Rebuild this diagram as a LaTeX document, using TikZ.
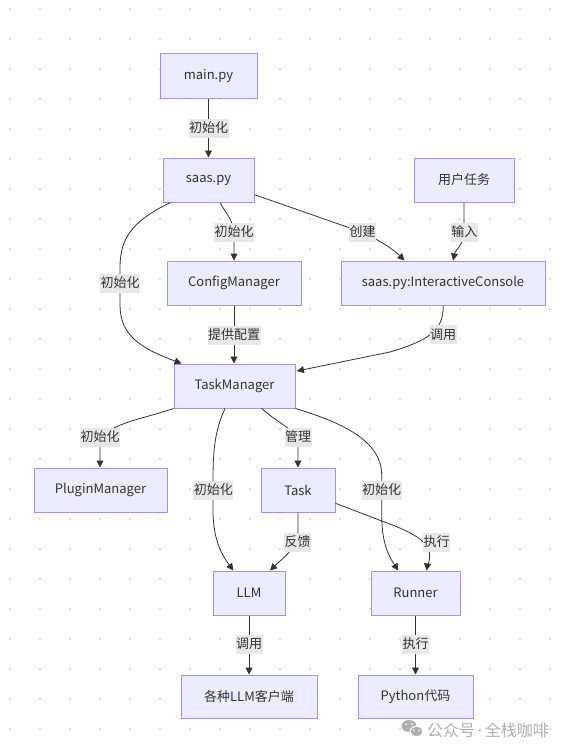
\documentclass[tikz,border=0pt]{standalone}
\usepackage{fontspec}
\setmainfont{Noto Sans CJK SC}
\newfontfamily\latinsans{Noto Sans}
\usetikzlibrary{arrows.meta,calc}
\definecolor{boxfill}{HTML}{ECECFF}
\definecolor{boxline}{HTML}{AB8FE6}
\definecolor{txt}{HTML}{333333}
\definecolor{edgec}{HTML}{333333}
\definecolor{lblbg}{HTML}{E8E8E8}
\definecolor{dotc}{HTML}{E0E0E0}
\definecolor{wm}{HTML}{B0B0B0}
\begin{document}
\begin{tikzpicture}[x=1pt,y=-1pt,
 box/.style={draw=boxline, fill=boxfill, line width=1pt, minimum height=44, inner sep=0pt, text=txt, font=\fontsize{13}{15}\selectfont},
 lbl/.style={fill=lblbg, text=txt, inner xsep=0.5pt, inner ysep=0pt, minimum height=19, font=\fontsize{13}{15}\selectfont},
 arr/.style={draw=edgec, line width=0.8pt, -{Triangle[length=7pt,width=7pt]}},
]
\useasboundingbox[fill=white] (0,0) rectangle (579,752);
% dotted grid
\foreach \x in {10,40,...,550} \foreach \y in {9,39,...,729} \fill[dotc] (\x,\y) circle (1.3pt);

% nodes
\node[box, minimum width=97] (main) at (208.5,76) {main.py};
\node[box, minimum width=91] (saas) at (208.5,180) {saas.py};
\node[box, minimum width=100] (user) at (464,180) {用户任务};
\node[box, minimum width=134] (cfg) at (234,283) {ConfigManager};
\node[box, minimum width=204] (ic) at (443,283) {saas.py:InteractiveConsole};
\node[box, minimum width=121] (tm) at (234.5,386) {TaskManager};
\node[box, minimum width=133] (pm) at (100.5,490) {PluginManager};
\node[box, minimum width=74] (task) at (298,490) {Task};
\node[box, minimum width=72] (llm) at (249,593) {LLM};
\node[box, minimum width=89] (runner) at (415.5,593) {Runner};
\node[box, minimum width=136, minimum height=43] (clients) at (249,696.5) {各种LLM客户端};
\node[box, minimum width=115, minimum height=43] (py) at (415.5,696.5) {Python代码};

% edges
\draw[arr] (main) -- (saas);
\draw[arr] ($(saas.south)+(11.5,0)$) .. controls (226,214) and (234,220) .. (234,236) -- (cfg.north);
\draw[arr] ($(saas.south west)+(8,0)$) .. controls (130,222) and (120,240) .. (120,268) -- (120,305) .. controls (120,335) and (140,348) .. ($(tm.north west)+(8,0)$);
\draw[arr] ($(saas.east)+(0,14.7)$) -- (350,228) .. controls (375,237) and (392,248) .. ($(ic.north west)+(64,0)$);
\draw[arr] (user.south) -- (464,232) .. controls (464,245) and (455,250) .. ($(ic.north)+(10.3,0)$);
\draw[arr] (cfg) -- (cfg |- tm.north);
\draw[arr] ($(ic.south)+(0.3,0)$) .. controls (443.3,330) and (430,340) .. (390,352) -- ($(tm.east)+(1.4,-15)$);
\draw[arr] (tm.south west) .. controls (140,420) and (100,425) .. (100,445) -- (pm.north -| 100,0);
\draw[arr] ($(tm.south)+(-9.5,0)$) .. controls (215,430) and (213,450) .. (213,480) -- (213,510) .. controls (213,540) and (222,555) .. ($(llm.north)+(-15.7,0)$);
\draw[arr] ($(tm.south)+(27.2,0)$) .. controls (280,425) and (298,430) .. (298,445) -- (task.north);
\draw[arr] (tm.south east) .. controls (340,422) and (381.7,440) .. (381.7,475) -- (381.7,515) .. controls (381.7,545) and (390,558) .. ($(runner.north)+(-17.2,0)$);
\draw[arr] (task.south) -- (298,530) .. controls (298,548) and (285,556) .. ($(llm.north)+(21,0)$);
\draw[arr] ($(task.east)+(0,13.3)$) -- (395,526) .. controls (425,538) and (431,548) .. (429.5,558) .. controls (429,564) and (427,568) .. ($(runner.north)+(11.2,0)$);
\draw[arr] (llm) -- (clients);
\draw[arr] (runner) -- (py);

% edge labels
\node[lbl] (l1) at (208.5,128) {初始化};
\node[lbl] (l2) at (234,232) {初始化};
\node[lbl] (l3) at (120,283) {初始化};
\node[lbl] (l4) at (362.7,232) {创建};
\node[lbl] (l5) at (464.3,232) {输入};
\node[lbl] (l6) at (234,335) {提供配置};
\node[lbl] (l7) at (443,334.5) {调用};
\node[lbl] (l8) at (100,437) {初始化};
\node[lbl] (l9) at (213.3,490) {初始化};
\node[lbl] (l10) at (298,437) {管理};
\node[lbl] (l11) at (381.7,490) {初始化};
\node[lbl] (l12) at (297.7,542) {反馈};
\node[lbl] (l13) at (436.7,542) {执行};
\node[lbl] (l14) at (249,644) {调用};
\node[lbl] (l15) at (415.5,644) {执行};

% watermark
\fill[wm] (409,726) ellipse (7.5pt and 6pt);
\fill[white] (406,724) circle (1pt);
\fill[white] (412,724) circle (1pt);
\draw[white, line width=1pt, fill=wm] (416.5,731.5) ellipse (6.3pt and 5.2pt);
\fill[white] (414,730.5) circle (0.9pt);
\fill[white] (419,730.5) circle (0.9pt);
\node[anchor=west, text=wm, inner sep=0pt, font=\fontsize{16}{18}\selectfont] (wmtext) at (427,730) {公众号\,{\latinsans\fontsize{16}{18}\selectfont ·}\,全栈咖啡};
\end{tikzpicture}
\end{document}
